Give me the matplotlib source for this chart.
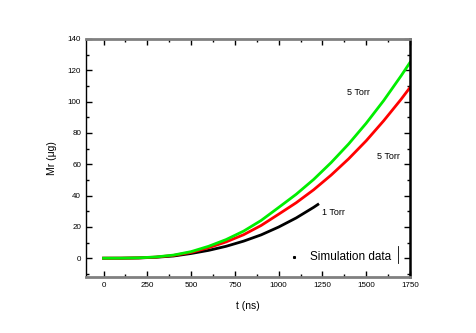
import matplotlib
matplotlib.use("Agg")
import matplotlib.pyplot as plt
from matplotlib.ticker import MultipleLocator

plt.rcParams['font.family'] = ['Liberation Sans', 'DejaVu Sans']

# time grid (ns) and mass (ug)
t_5 = [0, 100, 200, 300, 400, 500, 600, 700, 800, 900, 1000,
       1100, 1200, 1300, 1400, 1500, 1600, 1700, 1750]
m_green = [0, 0.03, 0.25, 0.8, 2.0, 4.2, 7.6, 11.9, 17.3, 24.1, 32.4,
           40.8, 50.3, 61.1, 73.0, 86.2, 100.7, 116.6, 125]
m_red = [0, 0.02, 0.2, 0.7, 1.8, 3.7, 6.7, 10.4, 15.0, 20.9, 28.1,
         35.4, 43.7, 53.1, 63.5, 75.0, 87.8, 101.6, 109]
t_1 = [0, 100, 200, 300, 400, 500, 600, 700, 800, 900, 1000, 1100, 1200, 1224]
m_black = [0, 0.02, 0.15, 0.6, 1.4, 3.0, 5.0, 7.6, 10.9, 14.9, 19.9, 25.7, 32.5, 34.3]

fig = plt.figure(figsize=(4.77, 3.33), dpi=100)
ax = fig.add_axes([0.1803, 0.1682, 0.6792, 0.7147])

ax.plot(t_1, m_black, color='black', lw=2)
ax.plot(t_5, m_red, color='#ff0000', lw=2)
ax.plot(t_5, m_green, color='#00ee00', lw=2)

ax.set_xlim(-100, 1750)
ax.set_ylim(-12, 140)
ax.xaxis.set_major_locator(MultipleLocator(250))
ax.xaxis.set_minor_locator(MultipleLocator(125))
ax.yaxis.set_major_locator(MultipleLocator(20))
ax.yaxis.set_minor_locator(MultipleLocator(10))
ax.tick_params(which='both', direction='in', top=True, right=True, labelsize=5.8, width=1)
ax.tick_params(which='major', length=4)
ax.tick_params(which='minor', length=2)

for side in ['top', 'bottom']:
    ax.spines[side].set_color('#808080')
    ax.spines[side].set_linewidth(2)
ax.spines['left'].set_linewidth(1)
ax.spines['right'].set_linewidth(1.8)

ax.set_xlabel('t (ns)', fontsize=7.5, labelpad=9)
ax.set_ylabel('Mr (\u03bcg)', fontsize=7.5, labelpad=8)

ax.text(1390, 106, '5 Torr', fontsize=6.5, va='center')
ax.text(1560, 65, '5 Torr', fontsize=6.5, va='center')
ax.text(1250, 29.5, '1 Torr', fontsize=6.5, va='center')

# legend-like entry
ax.plot([1085], [0.5], marker='s', ms=1.2, color='black', ls='none')
ax.text(1180, 0.5, 'Simulation data', fontsize=8.5, va='center')
ax.plot([1682, 1682], [-3, 7.5], color='black', lw=0.6)

fig.savefig('out.png', dpi=100)
